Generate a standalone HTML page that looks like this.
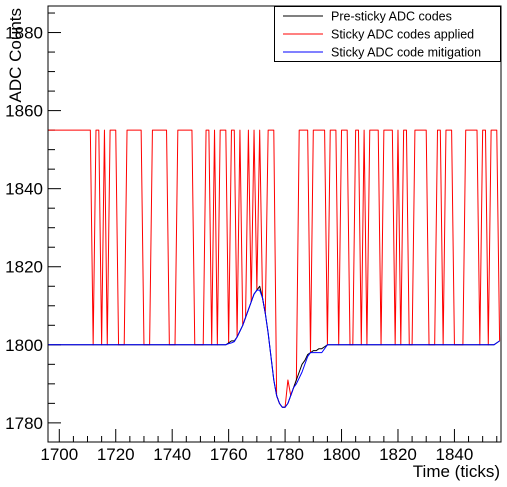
<!DOCTYPE html>
<html><head><meta charset="utf-8">
<style>
html,body{margin:0;padding:0;background:#fff;}
svg{display:block;font-family:"Liberation Sans",Arial,sans-serif;}
</style></head>
<body>
<svg id="chart" width="507" height="487" viewBox="0 0 507 487" xmlns="http://www.w3.org/2000/svg">
<rect x="0" y="0" width="507" height="487" fill="#fff"/>
<g id="grid-axes"></g>
<g id="series"></g>
<rect x="48" y="6" width="453" height="436" fill="none" stroke="#000" stroke-width="1"/>
<text x="500" y="477" font-size="17" text-anchor="end">Time (ticks)</text>
<text transform="translate(21,8) rotate(-90)" font-size="17" text-anchor="end">ADC Counts</text>
<g>
<rect x="274.5" y="6.5" width="226" height="55" fill="#fff" stroke="#000" stroke-width="1"/>
<line x1="283" y1="16" x2="323" y2="16" stroke="#000"/>
<text x="331" y="20.5" font-size="12.5">Pre-sticky ADC codes</text>
<line x1="283" y1="34" x2="323" y2="34" stroke="#f00"/>
<text x="331" y="38.5" font-size="12.5">Sticky ADC codes applied</text>
<line x1="283" y1="52" x2="323" y2="52" stroke="#00f"/>
<text x="331" y="56.5" font-size="12.5">Sticky ADC code mitigation</text>
</g>
</svg>
<script>
const tickStart = 1696;
const preSticky = [
1800,1800,1800,1800,1800,1800,1800,1800,1800,1800,
1800,1800,1800,1800,1800,1800,1800,1800,1800,1800,
1800,1800,1800,1800,1800,1800,1800,1800,1800,1800,
1800,1800,1800,1800,1800,1800,1800,1800,1800,1800,
1800,1800,1800,1800,1800,1800,1800,1800,1800,1800,
1800,1800,1800,1800,1800,1800,1800,1800,1800,1800,
1800,1800,1800,1800,1800.5,1801,1801,1802,1803.5,1805,
1807,1809,1811,1813,1814,1815,1812,1808,1803,1797,
1791,1787,1785,1784,1784,1785,1787,1789,1791,1793,
1795,1796,1797.5,1798,1798.5,1798.5,1799,1799,1799.5,1800,
1800,1800,1800,1800,1800,1800,1800,1800,1800,1800,
1800,1800,1800,1800,1800,1800,1800,1800,1800,1800,
1800,1800,1800,1800,1800,1800,1800,1800,1800,1800,
1800,1800,1800,1800,1800,1800,1800,1800,1800,1800,
1800,1800,1800,1800,1800,1800,1800,1800,1800,1800,
1800,1800,1800,1800,1800,1800,1800,1800,1800,1800.5,
1801];
const stickyApplied = [
1855,1855,1855,1855,1855,1855,1855,1855,1855,1855,
1855,1855,1855,1855,1855,1855,1800,1855,1855,1800,
1855,1800,1855,1855,1855,1800,1800,1800,1855,1855,
1855,1855,1855,1855,1800,1800,1800,1855,1855,1855,
1855,1855,1855,1800,1800,1800,1855,1855,1855,1855,
1855,1855,1800,1800,1800,1800,1855,1855,1800,1855,
1800,1855,1855,1855,1800.5,1855,1855,1802,1855,1805,
1807,1855,1811,1855,1814,1855,1812,1808,1855,1855,
1855,1787,1785,1784,1784,1791,1787,1789,1791,1855,
1855,1855,1855,1798,1855,1855,1855,1855,1855,1800,
1855,1855,1855,1800,1855,1855,1855,1800,1800,1855,
1855,1800,1855,1800,1855,1855,1855,1855,1800,1855,
1855,1855,1855,1800,1855,1800,1855,1855,1800,1800,
1855,1855,1855,1855,1855,1800,1800,1800,1855,1855,
1800,1855,1855,1855,1800,1800,1800,1800,1855,1855,
1855,1855,1855,1800,1855,1855,1800,1855,1855,1855,
1801];
const mitigation = [
1800,1800,1800,1800,1800,1800,1800,1800,1800,1800,
1800,1800,1800,1800,1800,1800,1800,1800,1800,1800,
1800,1800,1800,1800,1800,1800,1800,1800,1800,1800,
1800,1800,1800,1800,1800,1800,1800,1800,1800,1800,
1800,1800,1800,1800,1800,1800,1800,1800,1800,1800,
1800,1800,1800,1800,1800,1800,1800,1800,1800,1800,
1800,1800,1800,1800,1800.3,1800.5,1800.8,1802,1803.5,1805,
1807,1809,1811,1813,1814,1814,1812,1808,1803,1797,
1791,1787,1785,1784,1784,1785,1787,1789,1790,1791.5,
1793,1795,1797,1798,1798,1798,1798,1798,1799,1800,
1800,1800,1800,1800,1800,1800,1800,1800,1800,1800,
1800,1800,1800,1800,1800,1800,1800,1800,1800,1800,
1800,1800,1800,1800,1800,1800,1800,1800,1800,1800,
1800,1800,1800,1800,1800,1800,1800,1800,1800,1800,
1800,1800,1800,1800,1800,1800,1800,1800,1800,1800,
1800,1800,1800,1800,1800,1800,1800,1800,1800,1800.5,
1801];
const xTickLabels = [1700,1720,1740,1760,1780,1800,1820,1840];
const yTickLabels = [1780,1800,1820,1840,1860,1880];

const NS = "http://www.w3.org/2000/svg";
const X0 = 48, X1 = 501, Y0 = 6, Y1 = 442;
const xMin = 1696, xMax = 1856.5, yMin = 1775.1, yMax = 1886.8;
function sx(v){ return X0 + (v - xMin) / (xMax - xMin) * (X1 - X0); }
function sy(v){ return Y1 - (v - yMin) / (yMax - yMin) * (Y1 - Y0); }

const axes = document.getElementById('grid-axes');
function mk(tag, attrs, parent){
  const e = document.createElementNS(NS, tag);
  for (const k in attrs) e.setAttribute(k, attrs[k]);
  parent.appendChild(e);
  return e;
}
// y ticks
for (let v = 1780; v <= yMax; v += 5) {
  const major = (v % 20 === 0);
  const t = mk('line', {x1: X0, x2: X0 + (major ? 13 : 7), y1: sy(v), y2: sy(v), stroke: '#000', 'stroke-width': 1}, axes);
  
  
}
yTickLabels.forEach(v => {
  const t = mk('text', {x: 43, y: sy(v) + 6, 'font-size': 17, 'text-anchor': 'end'}, axes);
  t.textContent = v;
  
  
});
// x ticks
for (let v = 1700; v <= xMax; v += 5) {
  const major = (v % 20 === 0);
  const t = mk('line', {x1: sx(v), x2: sx(v), y1: Y1, y2: Y1 - (major ? 13 : 6), stroke: '#000', 'stroke-width': 1}, axes);
  
  
}
xTickLabels.forEach(v => {
  const t = mk('text', {x: sx(v), y: 460, 'font-size': 17, 'text-anchor': 'middle'}, axes);
  t.textContent = v;
  
  
});
// series
const sg = document.getElementById('series');
function drawLine(vals, color, name){
  const pts = vals.map((v, i) => sx(tickStart + i).toFixed(2) + ',' + sy(v).toFixed(2)).join(' ');
  const p = mk('polyline', {points: pts, fill: 'none', stroke: color, 'stroke-width': 1, 'stroke-linejoin': 'round'}, sg);
  
  
}
drawLine(stickyApplied, '#ff0000', 'sticky-applied-line');
drawLine(preSticky, '#000000', 'pre-sticky-line');
drawLine(mitigation, '#0000ff', 'mitigation-line');
</script>
</body></html>
